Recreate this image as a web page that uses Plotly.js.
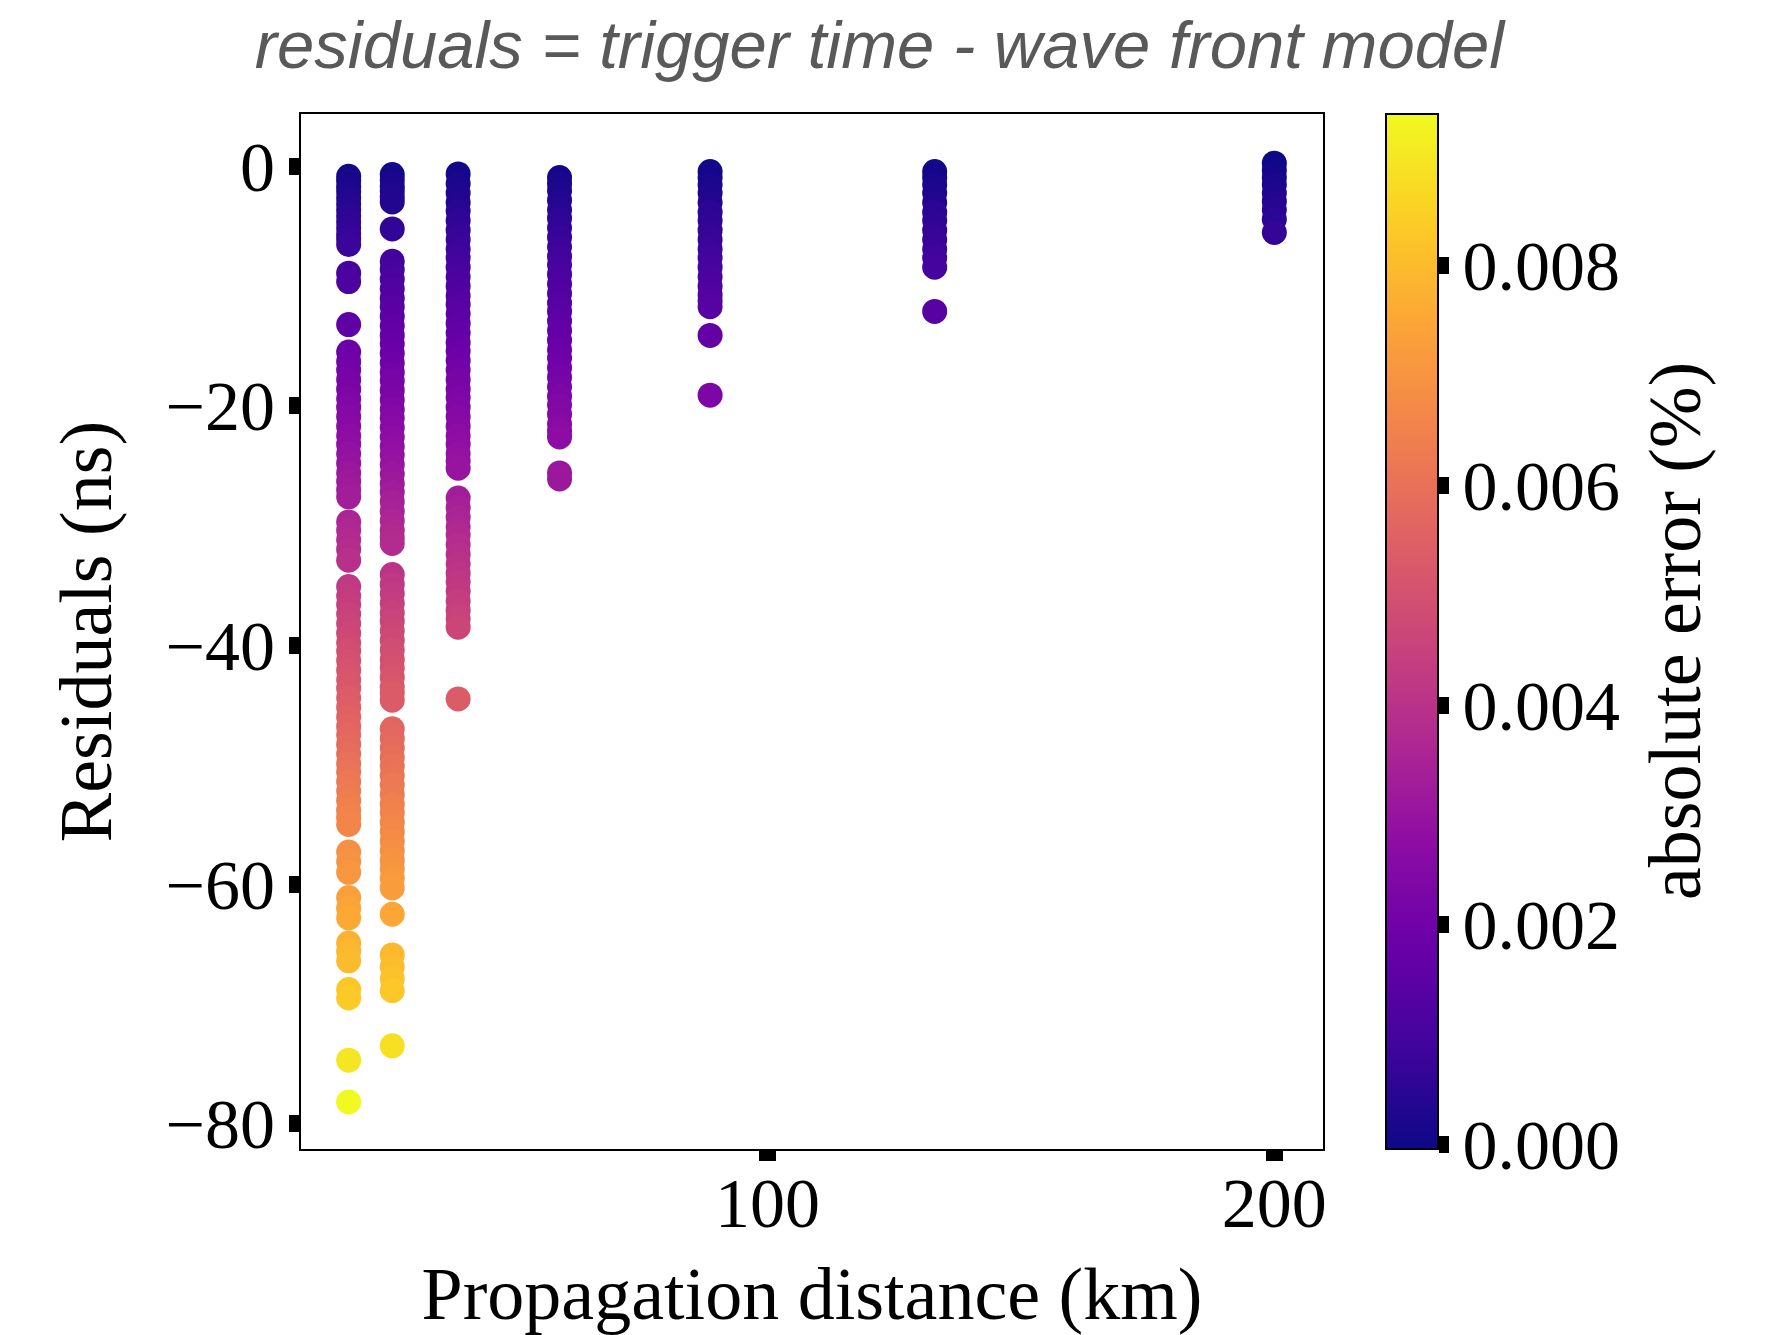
<!DOCTYPE html>
<html>
<head>
<meta charset="utf-8">
<script src="https://cdn.plot.ly/plotly-3.0.1.min.js"></script>
<style>
  html, body { margin: 0; padding: 0; background: #ffffff; }
  #chart { width: 1773px; height: 1335px; }
</style>
</head>
<body>
<div id="chart"></div>
<script>
// Propagation distances of the receiver rings (km)
const distanceKm = [17.4, 26.0, 39.0, 59.0, 88.7, 133.0, 200.0];

// Residuals (ns) per distance
const res17 = [-0.8, -1.2, -1.7, -2.1, -2.6, -3.1, -3.6, -4.1, -4.6, -5.1, -5.6, -6.0, -6.5,
  -8.9, -9.6, -13.2,
  -15.5, -16.3, -17.0, -17.8, -18.6, -19.4, -20.1, -20.9, -21.7, -22.5, -23.2, -24.0, -24.8, -25.6, -26.3, -27.0, -27.6,
  -29.7, -30.4, -31.2, -32.0, -32.9,
  -35.1, -35.9, -36.6, -37.4, -38.2, -39.0, -39.8, -40.5, -41.3, -42.1, -42.9, -43.6, -44.4, -45.2, -46.0, -46.8,
  -47.5, -48.3, -49.1, -49.9, -50.6, -51.4, -52.2, -53.0, -53.8, -54.4, -55.0,
  -57.3, -58.1, -59.0, -61.1, -62.0, -62.8, -64.9, -65.6, -66.4, -68.8, -69.5, -74.7, -78.2];
const res26 = [-0.65, -1.1, -1.6, -2.0, -2.5, -2.95, -5.2,
  -7.9, -8.6, -9.4, -10.2, -11.0, -11.7, -12.5, -13.3, -14.1, -14.8, -15.6, -16.4, -17.2, -17.9, -18.7, -19.5,
  -20.3, -21.0, -21.8, -22.6, -23.4, -24.1, -24.9, -25.7, -26.5, -27.2, -28.0, -28.8, -29.6, -30.4, -31.0, -31.5,
  -34.1, -34.9, -35.7, -36.5, -37.3, -38.0, -38.8, -39.6, -40.4, -41.2, -41.9, -42.7, -43.5, -44.0, -44.6,
  -47.0, -47.8, -48.6, -49.4, -50.1, -50.9, -51.7, -52.5, -53.3, -54.0, -54.8, -55.6, -56.4, -57.2, -58.0, -58.7,
  -59.5, -60.3, -62.5, -65.9, -66.9, -67.9, -68.9, -73.5];
const res39 = [-0.6, -1.4, -2.2, -3.0, -3.7, -4.5, -5.3, -6.1, -6.9, -7.6, -8.4, -9.2, -10.0, -10.8, -11.5, -12.3,
  -13.1, -13.9, -14.7, -15.4, -16.2, -17.0, -17.8, -18.6, -19.3, -20.1, -20.9, -21.7, -22.5, -23.2, -24.0, -24.6, -25.2,
  -27.7, -28.5, -29.3, -30.1, -30.8, -31.6, -32.4, -33.2, -34.0, -34.7, -35.5, -36.3, -37.1, -37.8, -38.5, -44.5];
const res59 = [-0.9, -1.4, -2.0, -2.8, -3.6, -4.3, -5.1, -5.9, -6.7, -7.5, -8.2, -9.0, -9.8, -10.6, -11.4, -12.1,
  -12.9, -13.7, -14.5, -15.3, -16.0, -16.8, -17.6, -18.4, -19.2, -19.9, -20.7, -21.5, -22.1, -22.6, -25.6, -26.1];
const res89 = [-0.4, -0.9, -1.5, -2.2, -3.0, -3.8, -4.5, -5.3, -6.1, -6.9, -7.6, -8.4, -9.2, -10.0, -10.7, -11.2, -11.7,
  -14.1, -19.1];
const res133 = [-0.4, -0.9, -1.5, -2.2, -3.0, -3.8, -4.5, -5.3, -6.1, -6.9, -7.6, -8.4, -12.1];
const res200 = [0.3, -0.3, -0.9, -1.5, -2.2, -2.9, -3.6, -4.4, -5.5];

// Absolute timing error (%) per point, same order as the residuals
const err17 = [0.00010, 0.00014, 0.00020, 0.00025, 0.00031, 0.00037, 0.00043, 0.00049, 0.00055, 0.00061, 0.00067, 0.00072, 0.00078,
  0.00107, 0.00115, 0.00158,
  0.00186, 0.00196, 0.00204, 0.00214, 0.00223, 0.00233, 0.00241, 0.00251, 0.00260, 0.00270, 0.00278, 0.00288, 0.00298, 0.00307, 0.00316, 0.00324, 0.00331,
  0.00356, 0.00365, 0.00374, 0.00384, 0.00395,
  0.00421, 0.00431, 0.00439, 0.00449, 0.00458, 0.00468, 0.00478, 0.00486, 0.00496, 0.00505, 0.00515, 0.00523, 0.00533, 0.00542, 0.00552, 0.00562,
  0.00570, 0.00580, 0.00589, 0.00599, 0.00607, 0.00617, 0.00626, 0.00636, 0.00646, 0.00653, 0.00660,
  0.00688, 0.00697, 0.00708, 0.00733, 0.00744, 0.00754, 0.00779, 0.00787, 0.00797, 0.00826, 0.00834, 0.00896, 0.00938];
const err26 = [0.00008, 0.00013, 0.00019, 0.00024, 0.00030, 0.00035, 0.00062,
  0.00095, 0.00103, 0.00113, 0.00122, 0.00132, 0.00140, 0.00150, 0.00160, 0.00169, 0.00178, 0.00187, 0.00197, 0.00206, 0.00215, 0.00224, 0.00234,
  0.00244, 0.00252, 0.00262, 0.00271, 0.00281, 0.00289, 0.00299, 0.00308, 0.00318, 0.00326, 0.00336, 0.00346, 0.00355, 0.00365, 0.00372, 0.00378,
  0.00409, 0.00419, 0.00428, 0.00438, 0.00448, 0.00456, 0.00466, 0.00475, 0.00485, 0.00494, 0.00503, 0.00512, 0.00522, 0.00528, 0.00535,
  0.00564, 0.00574, 0.00583, 0.00593, 0.00601, 0.00611, 0.00620, 0.00630, 0.00640, 0.00648, 0.00658, 0.00667, 0.00677, 0.00686, 0.00696, 0.00704,
  0.00714, 0.00724, 0.00750, 0.00791, 0.00803, 0.00815, 0.00827, 0.00882];
const err39 = [0.00007, 0.00017, 0.00026, 0.00036, 0.00044, 0.00054, 0.00064, 0.00073, 0.00083, 0.00091, 0.00101, 0.00110, 0.00120, 0.00130, 0.00138, 0.00148,
  0.00157, 0.00167, 0.00176, 0.00185, 0.00194, 0.00204, 0.00214, 0.00223, 0.00232, 0.00241, 0.00251, 0.00260, 0.00270, 0.00278, 0.00288, 0.00295, 0.00302,
  0.00332, 0.00342, 0.00352, 0.00361, 0.00370, 0.00379, 0.00389, 0.00398, 0.00408, 0.00416, 0.00426, 0.00436, 0.00445, 0.00454, 0.00462, 0.00534];
const err59 = [0.00011, 0.00017, 0.00024, 0.00034, 0.00043, 0.00052, 0.00061, 0.00071, 0.00080, 0.00090, 0.00098, 0.00108, 0.00118, 0.00127, 0.00137, 0.00145,
  0.00155, 0.00164, 0.00174, 0.00184, 0.00192, 0.00202, 0.00211, 0.00221, 0.00230, 0.00239, 0.00248, 0.00258, 0.00265, 0.00271, 0.00307, 0.00313];
const err89 = [0.00005, 0.00011, 0.00018, 0.00026, 0.00036, 0.00046, 0.00054, 0.00064, 0.00073, 0.00083, 0.00091, 0.00101, 0.00110, 0.00120, 0.00128, 0.00134, 0.00140,
  0.00169, 0.00229];
const err133 = [0.00005, 0.00011, 0.00018, 0.00026, 0.00036, 0.00046, 0.00054, 0.00064, 0.00073, 0.00083, 0.00091, 0.00101, 0.00145];
const err200 = [-0.00004, 0.00004, 0.00011, 0.00018, 0.00026, 0.00035, 0.00043, 0.00053, 0.00066];

// Colorbar ticks
const cbTickVals = [0, 0.002, 0.004, 0.006, 0.008];
const cbTickText = ['0.000', '0.002', '0.004', '0.006', '0.008'];
const xTickVals = [100, 200];
const yTickVals = [0, -20, -40, -60, -80];

// Plasma colour map
const plasma = [
  [0.0, '#0d0887'], [0.1, '#41049d'], [0.2, '#6a00a8'], [0.3, '#8f0da4'],
  [0.4, '#b12a90'], [0.5, '#cc4778'], [0.6, '#e16462'], [0.7, '#f2844b'],
  [0.8, '#fca636'], [0.9, '#fcce25'], [1.0, '#f0f921']
];

const groups = [
  [distanceKm[0], res17, err17],
  [distanceKm[1], res26, err26],
  [distanceKm[2], res39, err39],
  [distanceKm[3], res59, err59],
  [distanceKm[4], res89, err89],
  [distanceKm[5], res133, err133],
  [distanceKm[6], res200, err200]
];

const xs = [], ys = [], cs = [];
groups.forEach(([d, r, e]) => {
  r.forEach((v, i) => { xs.push(d); ys.push(v); cs.push(e[i]); });
});

const serif = 'Liberation Serif, Times New Roman, serif';

const trace = {
  type: 'scatter',
  mode: 'markers',
  x: xs,
  y: ys,
  hoverinfo: 'skip',
  marker: {
    size: 25,
    color: cs,
    colorscale: plasma,
    line: { width: 0 },
    showscale: true,
    colorbar: {
      x: 1.0616, xanchor: 'left', xpad: 0,
      y: 0.5, yanchor: 'middle', ypad: 0,
      len: 1, lenmode: 'fraction',
      thickness: 52, thicknessmode: 'pixels',
      outlinewidth: 2, outlinecolor: '#000000',
      ticks: 'outside', ticklen: 10, tickwidth: 17, tickcolor: '#000000',
      tickvals: cbTickVals, ticktext: cbTickText,
      tickfont: { family: serif, size: 70, color: '#000000' }
    }
  }
};

const axisBase = {
  showline: true, mirror: true, linewidth: 2, linecolor: '#000000',
  showgrid: false, zeroline: false,
  ticks: 'outside', ticklen: 10, tickwidth: 17, tickcolor: '#000000',
  tickfont: { family: serif, size: 70, color: '#000000' }
};

const layout = {
  width: 1773,
  height: 1335,
  margin: { l: 301, r: 450, t: 114, b: 186, pad: 0 },
  paper_bgcolor: '#ffffff',
  plot_bgcolor: '#ffffff',
  showlegend: false,
  title: {
    text: 'residuals = trigger time - wave front model',
    font: { family: 'Liberation Sans, Arial, sans-serif', size: 67, color: '#595959', style: 'italic' },
    xref: 'container', x: 0.496, xanchor: 'center',
    yref: 'container', y: 0.984, yanchor: 'top'
  },
  xaxis: Object.assign({}, axisBase, {
    range: [8.0, 209.6],
    tickvals: xTickVals,
    ticklabelstandoff: -18,
    title: { text: 'Propagation distance (km)', font: { family: serif, size: 74, color: '#000000' }, standoff: 34 }
  }),
  yaxis: Object.assign({}, axisBase, {
    range: [-82.13, 4.41],
    tickvals: yTickVals,
    title: { text: 'Residuals (ns)', font: { family: serif, size: 74, color: '#000000' }, standoff: 30 }
  }),
  annotations: [{
    text: 'absolute error (%)',
    xref: 'paper', yref: 'paper',
    x: 1.344, y: 0.5, xanchor: 'center', yanchor: 'middle',
    textangle: -90, showarrow: false,
    font: { family: serif, size: 74, color: '#000000' }
  }]
};

Plotly.newPlot('chart', [trace], layout, { displayModeBar: false, staticPlot: true });
</script>
</body>
</html>
